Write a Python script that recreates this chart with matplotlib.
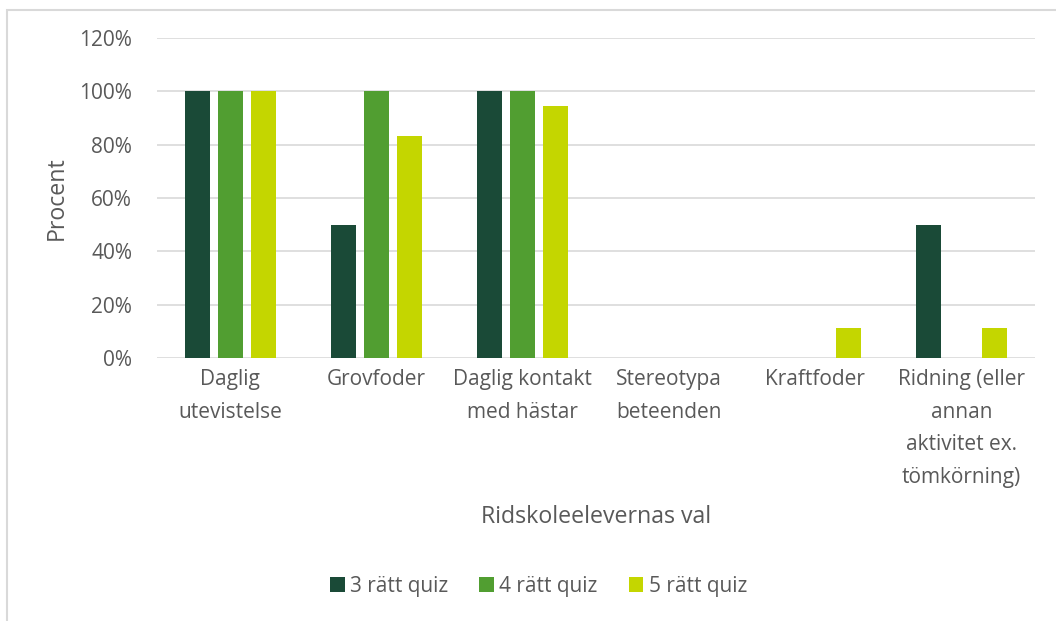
import matplotlib.pyplot as plt
import numpy as np
from matplotlib.patches import Rectangle
from matplotlib.ticker import PercentFormatter

plt.rcParams['font.family'] = ['Open Sans', 'DejaVu Sans']

categories = ['Daglig\nutevistelse', 'Grovfoder', 'Daglig kontakt\nmed hästar',
              'Stereotypa\nbeteenden', 'Kraftfoder',
              'Ridning (eller\nannan\naktivitet ex.\ntömkörning)']
series_names = ['3 rätt quiz', '4 rätt quiz', '5 rätt quiz']
quiz3 = [100, 50, 100, 0, 0, 50]
quiz4 = [100, 100, 100, 0, 0, 0]
quiz5 = [100, 83.3, 94.4, 0, 11.1, 11.1]
colors = ['#1A4A37', '#519E31', '#C4D600']

txt = '#595959'
fig = plt.figure(figsize=(10.56, 6.21), dpi=100)
ax = fig.add_axes([0.1487, 0.4235, 0.8313, 0.5153])

x = np.arange(len(categories))
w = 0.17
off = 0.225
for i, (vals, name) in enumerate(zip([quiz3, quiz4, quiz5], series_names)):
    ax.bar(x + (i - 1) * off, vals, w, color=colors[i], label=name, zorder=3)

ax.set_ylim(0, 120)
ax.set_yticks(np.arange(0, 121, 20))
ax.yaxis.set_major_formatter(PercentFormatter(decimals=0))
ax.set_xlim(-0.5, len(categories) - 0.5)
ax.set_xticks(x)
ax.set_xticklabels(categories, linespacing=1.72, va='top')
ax.grid(axis='y', color='#D9D9D9', linewidth=1.2, zorder=0)
for s in ax.spines.values():
    s.set_visible(False)
ax.tick_params(length=0, colors=txt, labelsize=15)
ax.tick_params(axis='x', pad=8)
ax.tick_params(axis='y', pad=18)

fig.text(0.054, 0.681, 'Procent', rotation=90, ha='center', va='center',
         fontsize=16.7, color=txt)
fig.text(0.564, 0.168, 'Ridskoleelevernas val', ha='center', va='center',
         fontsize=16.7, color=txt)

fig.legend(loc='center', bbox_to_anchor=(0.51, 0.056), ncol=3, frameon=False,
           fontsize=15, labelcolor=txt, handlelength=0.7, handleheight=0.7,
           handletextpad=0.25, columnspacing=1.5)

fig.patches.append(Rectangle((7 / 1056, -0.05), 1.2, 1 - 10 / 621 + 0.05,
                             transform=fig.transFigure, fill=False,
                             edgecolor='#D9D9D9', linewidth=1.5))

fig.savefig('out.png', dpi=100)
